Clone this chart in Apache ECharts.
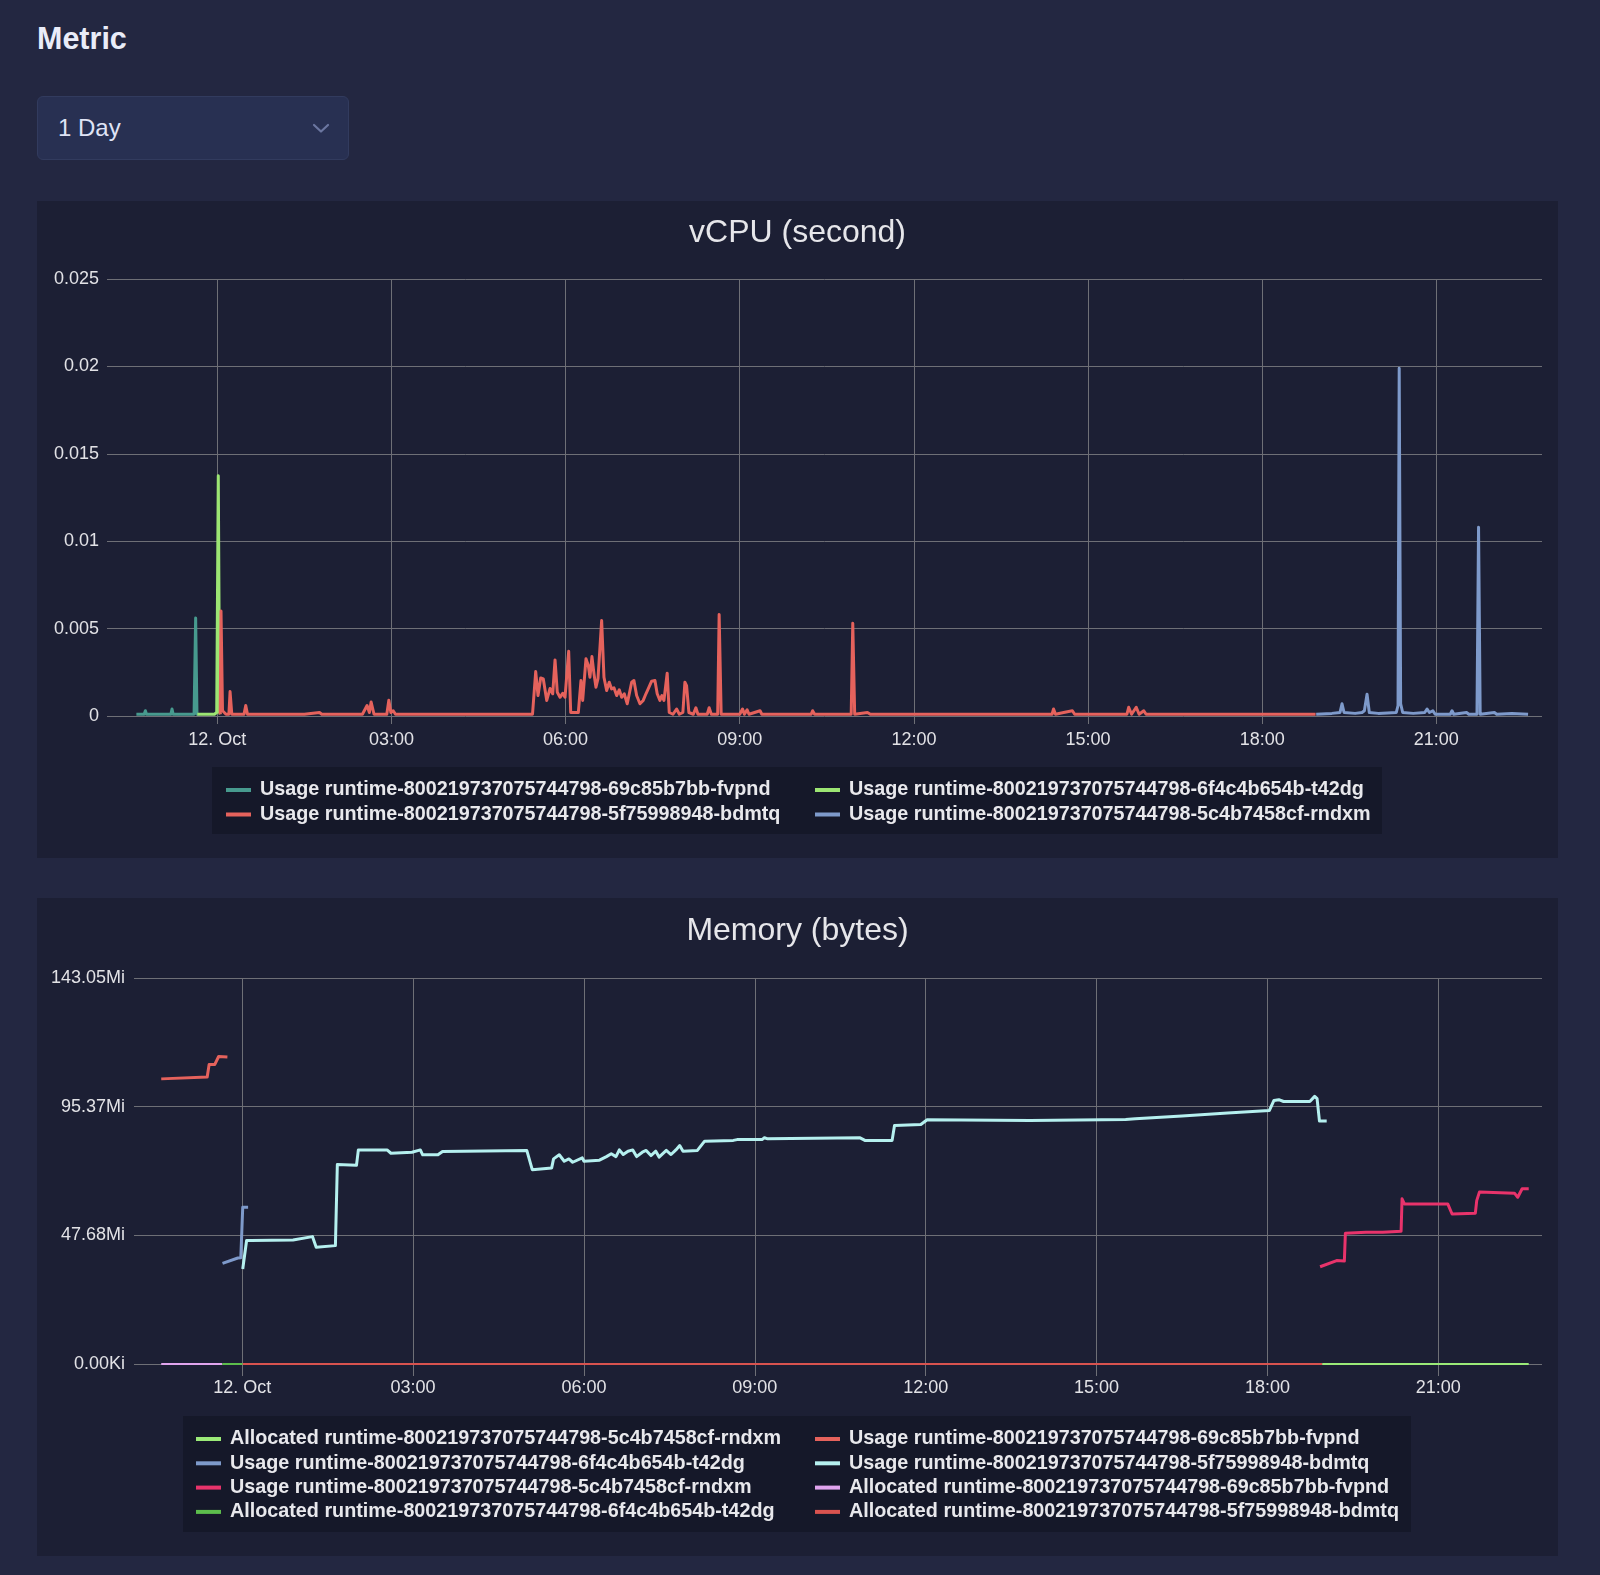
<!DOCTYPE html>
<html>
<head>
<meta charset="utf-8">
<title>Metric</title>
<script src="https://cdn.jsdelivr.net/npm/echarts@6/dist/echarts.min.js"></script>
<style>
  html, body { margin: 0; padding: 0; }
  body {
    width: 1600px; height: 1575px; position: relative; overflow: hidden;
    background: #232741;
    font-family: "Liberation Sans", Arial, sans-serif;
  }
  h1 {
    position: absolute; left: 37px; top: 21px; margin: 0;
    font-size: 30.5px; line-height: 34px; font-weight: bold; color: #e9ecf8;
  }
  .select {
    position: absolute; left: 37px; top: 96px; width: 290px; height: 62px;
    background: #283052; border: 1px solid #323b5e; border-radius: 6px;
    color: #dfe3f5; font-size: 24px; line-height: 62px; padding-left: 20px; box-sizing: content-box;
  }
  .select svg { position: absolute; left: 274px; top: 26px; }
  .panel { position: absolute; left: 37px; width: 1521px; background: #1c1f34; }
  #cpu { top: 201px; height: 657px; }
  #mem { top: 898px; height: 658px; }
</style>
</head>
<body>
<h1>Metric</h1>
<div class="select">1 Day
  <svg width="18" height="11" viewBox="0 0 18 11"><polyline points="2,2 9,8.5 16,2" fill="none" stroke="#6b76a0" stroke-width="2.2" stroke-linecap="round" stroke-linejoin="round"/></svg>
</div>
<div class="panel" id="cpu"></div>
<div class="panel" id="mem"></div>

<script>
// x values are hours from 12 Oct 00:00
var xMin = -1.9;
var xMax = 22.82;
var hourTicks = [0, 3, 6, 9, 12, 15, 18, 21];
var xTickLabels = ['12. Oct', '03:00', '06:00', '09:00', '12:00', '15:00', '18:00', '21:00'];

var memTickValues = [0, 50000000, 100000000, 150000000];
var memTickLabels = ['0.00Ki', '47.68Mi', '95.37Mi', '143.05Mi'];

// ---- vCPU ----
var cpuNames = [
  'Usage runtime-800219737075744798-69c85b7bb-fvpnd',
  'Usage runtime-800219737075744798-6f4c4b654b-t42dg',
  'Usage runtime-800219737075744798-5f75998948-bdmtq',
  'Usage runtime-800219737075744798-5c4b7458cf-rndxm'
];
var cpuColors = ['#479a8e', '#9ce573', '#e5625c', '#7e9acb'];

var cpuFvpnd = [
  [-1.394, 0.0001], [-1.30, 0.0001], [-1.26, 0.0001], [-1.239, 0.0003], [-1.22, 0.0001],
  [-1.0, 0.0001], [-0.80, 0.0001], [-0.78, 0.0004], [-0.76, 0.0001], [-0.55, 0.0001],
  [-0.40, 0.0001], [-0.373, 0.0056], [-0.35, 0.0001], [-0.327, 0.0001]
];
var cpuT42dg = [
  [-0.344, 0.0001], [-0.2, 0.0001], [-0.05, 0.0001], [-0.01, 0.0002], [0.017, 0.01375],
  [0.04, 0.0002], [0.05, 0.0001]
];
var cpuBdmtq = [
  [0.05, 0.0001], [0.064, 0.0060], [0.09, 0.0003], [0.15, 0.0001], [0.20, 0.0001],
  [0.22, 0.0014], [0.25, 0.0001], [0.46, 0.0001], [0.49, 0.0006], [0.52, 0.0001],
  [1.0, 0.0001], [1.5, 0.0001], [1.76, 0.0002], [1.8, 0.0001], [2.2, 0.0001],
  [2.5, 0.0001], [2.58, 0.0006], [2.62, 0.0002], [2.65, 0.0008], [2.70, 0.0001],
  [2.92, 0.0001], [2.955, 0.0009], [2.99, 0.0002], [3.03, 0.0003], [3.07, 0.0001],
  [4.0, 0.0001], [5.0, 0.0001], [5.43, 0.0001],
  [5.444, 0.0002], [5.485, 0.00254], [5.525, 0.00117], [5.571, 0.00218], [5.616, 0.00212],
  [5.675, 0.00089], [5.731, 0.00157], [5.778, 0.00127], [5.818, 0.00321], [5.857, 0.00136],
  [5.904, 0.00107], [5.950, 0.0013], [5.990, 0.00107], [6.053, 0.0037], [6.088, 0.0002],
  [6.219, 0.0002], [6.265, 0.00203], [6.294, 0.00089], [6.351, 0.00327], [6.391, 0.00289],
  [6.420, 0.00222], [6.454, 0.0034], [6.489, 0.00241], [6.523, 0.00165], [6.558, 0.00213],
  [6.621, 0.00546], [6.661, 0.00222], [6.707, 0.00146], [6.752, 0.00193], [6.793, 0.00155],
  [6.833, 0.00161], [6.880, 0.00117], [6.924, 0.0015], [6.966, 0.00107], [7.010, 0.00127],
  [7.062, 0.0007], [7.138, 0.00193], [7.177, 0.00203], [7.224, 0.00117], [7.281, 0.0007],
  [7.337, 0.00089], [7.384, 0.00127], [7.423, 0.00155], [7.482, 0.00199], [7.539, 0.00203],
  [7.578, 0.00127], [7.625, 0.00089], [7.659, 0.00117], [7.694, 0.00089], [7.750, 0.00245],
  [7.785, 0.0002], [7.85, 0.0001], [7.912, 0.0004], [7.96, 0.0001], [8.02, 0.0002],
  [8.055, 0.00193], [8.084, 0.00174], [8.124, 0.0002], [8.2, 0.0001], [8.244, 0.00047],
  [8.28, 0.0001], [8.44, 0.0001], [8.473, 0.00047], [8.51, 0.0001], [8.62, 0.0001],
  [8.645, 0.0058], [8.68, 0.0001], [9.0, 0.0001], [9.048, 0.0004], [9.08, 0.0001],
  [9.127, 0.00035], [9.16, 0.0001], [9.35, 0.0003], [9.38, 0.0001], [9.95, 0.0001],
  [9.97, 0.0002], [10.0, 0.0001], [10.23, 0.0001], [10.255, 0.0003], [10.29, 0.0001],
  [10.92, 0.0001], [10.947, 0.0053], [10.98, 0.0001], [11.2, 0.0002], [11.25, 0.0001],
  [12.0, 0.0001], [13.0, 0.0001],
  [14.38, 0.0001], [14.406, 0.0004], [14.44, 0.0001], [14.58, 0.0002], [14.73, 0.0003],
  [14.77, 0.0001], [15.67, 0.0001], [15.70, 0.0005], [15.75, 0.0001], [15.83, 0.0005],
  [15.88, 0.0001], [15.96, 0.0003], [16.0, 0.0001], [17.0, 0.0001], [18.0, 0.0001],
  [18.92, 0.0001]
];
var cpuRndxm = [
  [18.93, 0.0001], [19.2, 0.00015], [19.34, 0.0002], [19.375, 0.0007], [19.41, 0.0002],
  [19.6, 0.00015], [19.72, 0.0002], [19.76, 0.0003], [19.806, 0.00125], [19.845, 0.0002],
  [20.0, 0.00015], [20.31, 0.0002], [20.34, 0.0006], [20.36, 0.0199], [20.385, 0.0007],
  [20.42, 0.0002], [20.6, 0.00015], [20.80, 0.0002], [20.84, 0.0004], [20.88, 0.0002],
  [20.94, 0.0003], [20.98, 0.0001], [21.24, 0.0001], [21.27, 0.0003], [21.30, 0.0001],
  [21.52, 0.0002], [21.56, 0.0001], [21.70, 0.0001], [21.727, 0.0108], [21.755, 0.0001],
  [22.0, 0.0002], [22.04, 0.0001], [22.3, 0.00015], [22.58, 0.0001]
];

// ---- Memory (bytes) ----
var memNames = [
  'Allocated runtime-800219737075744798-5c4b7458cf-rndxm',
  'Usage runtime-800219737075744798-69c85b7bb-fvpnd',
  'Usage runtime-800219737075744798-6f4c4b654b-t42dg',
  'Usage runtime-800219737075744798-5f75998948-bdmtq',
  'Usage runtime-800219737075744798-5c4b7458cf-rndxm',
  'Allocated runtime-800219737075744798-69c85b7bb-fvpnd',
  'Allocated runtime-800219737075744798-6f4c4b654b-t42dg',
  'Allocated runtime-800219737075744798-5f75998948-bdmtq'
];
var memColors = ['#9bea78', '#e5625c', '#7e9acb', '#b5f0ef', '#e8336b', '#e0a4ee', '#5cbd4c', '#d9534f'];

var allocRndxm = [[18.96, 0], [22.587, 0]];
var usageFvpnd = [
  [-1.422, 110.8e6], [-0.615, 111.5e6], [-0.581, 116.4e6], [-0.481, 116.4e6],
  [-0.414, 119.5e6], [-0.26, 119.3e6]
];
var usageT42dg = [
  [-0.346, 39.1e6], [-0.077, 41.2e6], [-0.025, 41.3e6], [0.009, 60.9e6], [0.103, 60.9e6]
];
var usageBdmtq = [
  [0.009, 36.9e6], [0.077, 48.0e6], [0.155, 48.0e6], [0.892, 48.2e6], [1.233, 49.5e6],
  [1.299, 45.4e6], [1.636, 46.0e6], [1.670, 77.5e6], [2.006, 77.2e6], [2.039, 83.2e6],
  [2.543, 83.2e6], [2.611, 81.9e6], [2.98, 82.3e6], [3.127, 83.2e6], [3.168, 81.3e6],
  [3.436, 81.3e6], [3.517, 82.6e6], [4.996, 83.0e6], [5.092, 75.5e6], [5.433, 76.2e6],
  [5.466, 79.7e6], [5.566, 81.3e6], [5.654, 78.8e6], [5.735, 79.7e6], [5.802, 78.4e6],
  [5.97, 80.1e6], [6.0, 78.8e6], [6.272, 79.2e6], [6.395, 80.6e6], [6.479, 81.7e6],
  [6.562, 80.6e6], [6.621, 83.2e6], [6.689, 81.4e6], [6.773, 82.7e6], [6.857, 83.2e6],
  [6.924, 80.6e6], [7.025, 82.3e6], [7.092, 83.0e6], [7.176, 81.0e6], [7.261, 82.7e6],
  [7.319, 80.4e6], [7.445, 83.0e6], [7.529, 81.4e6], [7.614, 83.2e6], [7.681, 84.9e6],
  [7.739, 82.7e6], [7.991, 83.0e6], [8.118, 86.6e6], [8.622, 86.9e6], [8.688, 87.2e6],
  [9.126, 87.2e6], [9.168, 87.9e6], [9.226, 87.5e6], [10.848, 87.9e6], [10.932, 86.9e6],
  [11.410, 86.9e6], [11.452, 92.7e6], [11.914, 93.1e6], [12.025, 94.9e6], [13.830, 94.6e6],
  [15.510, 95.0e6], [15.679, 95.3e6], [16.5, 96.4e6], [17.3, 97.5e6], [18.032, 98.5e6],
  [18.114, 102.4e6], [18.199, 102.7e6], [18.283, 102.0e6], [18.744, 102.0e6], [18.829, 104.0e6],
  [18.871, 103.1e6], [18.913, 94.4e6], [19.04, 94.4e6]
];
var usageRndxm = [
  [18.924, 37.8e6], [19.215, 40.2e6], [19.350, 40.0e6], [19.368, 50.8e6], [19.731, 51.2e6],
  [20.023, 51.2e6], [20.346, 51.6e6], [20.363, 64.2e6], [20.404, 62.2e6], [21.165, 62.2e6],
  [21.241, 58.3e6], [21.65, 58.6e6], [21.674, 63.5e6], [21.721, 66.8e6], [22.336, 66.4e6],
  [22.394, 64.8e6], [22.471, 68.1e6], [22.587, 68.1e6]
];
var allocFvpnd = [[-1.422, 0], [-0.35, 0]];
var allocT42dg = [[-0.35, 0], [0.009, 0]];
var allocBdmtq = [[0.009, 0], [18.96, 0]];

var FONT = '"Liberation Sans", Arial, sans-serif';
var gridColor = '#6e6f76';
var labelColor = '#e2e2e6';

function lineSeries(name, color, data, width) {
  return {
    name: name,
    type: 'line',
    data: data,
    symbol: 'none',
    showSymbol: false,
    color: color,
    lineStyle: { color: color, width: width, join: 'round' },
    emphasis: { disabled: true },
    animation: false
  };
}

function legendCol(names, left, top, gap) {
  return {
    data: names,
    orient: 'vertical',
    left: left,
    top: top,
    padding: 0,
    itemGap: gap,
    icon: 'rect',
    itemWidth: 25,
    itemHeight: 4,
    selectedMode: false,
    textStyle: { color: '#e8e8ec', fontSize: 19.75, fontWeight: 'bold', fontFamily: FONT, lineHeight: 20, padding: [0, 0, 0, 4] }
  };
}

function xAxisOpt(tickLen) {
  return {
    type: 'value',
    min: xMin,
    max: xMax,
    axisLine: { show: false },
    axisTick: { show: true, customValues: hourTicks, length: tickLen, lineStyle: { color: gridColor } },
    axisLabel: {
      customValues: hourTicks,
      formatter: function (v) { return xTickLabels[hourTicks.indexOf(v)]; },
      color: labelColor, fontSize: 18, fontFamily: FONT, margin: 15
    },
    splitLine: { show: true, lineStyle: { color: gridColor, width: 1 } }
  };
}

function titleOpt(text, top) {
  return {
    text: text, left: 'center', top: top,
    textStyle: { color: '#e6e6ea', fontSize: 32, fontWeight: 'normal', fontFamily: FONT }
  };
}

var cpuChart = echarts.init(document.getElementById('cpu'));
cpuChart.setOption({
  backgroundColor: 'transparent',
  animation: false,
  title: titleOpt('vCPU (second)', 11),
  grid: { left: 70, right: 16, top: 78, bottom: 142 },
  xAxis: xAxisOpt(8),
  yAxis: {
    type: 'value', min: 0, max: 0.025, interval: 0.005,
    axisLine: { show: false }, axisTick: { show: false },
    axisLabel: { color: labelColor, fontSize: 18, fontFamily: FONT, margin: 8, padding: [6, 0, 0, 0] },
    splitLine: { lineStyle: { color: gridColor, width: 1 } }
  },
  graphic: [{
    type: 'rect', left: 175, top: 566, silent: true, z: -1,
    shape: { width: 1170, height: 67 },
    style: { fill: '#151829' }
  }],
  legend: [
    legendCol([cpuNames[0], cpuNames[2]], 189, 579, 4.5),
    legendCol([cpuNames[1], cpuNames[3]], 778, 579, 4.5)
  ],
  series: [
    lineSeries(cpuNames[0], cpuColors[0], cpuFvpnd, 3),
    lineSeries(cpuNames[1], cpuColors[1], cpuT42dg, 3),
    lineSeries(cpuNames[2], cpuColors[2], cpuBdmtq, 3),
    lineSeries(cpuNames[3], cpuColors[3], cpuRndxm, 3)
  ]
});

var memChart = echarts.init(document.getElementById('mem'));
memChart.setOption({
  backgroundColor: 'transparent',
  animation: false,
  title: titleOpt('Memory (bytes)', 12),
  grid: { left: 97, right: 16, top: 80, bottom: 192 },
  xAxis: xAxisOpt(12),
  yAxis: {
    type: 'value', min: 0, max: 150000000, interval: 50000000,
    axisLine: { show: false }, axisTick: { show: false },
    axisLabel: {
      color: labelColor, fontSize: 18, fontFamily: FONT, margin: 9, padding: [6, 0, 0, 0],
      formatter: function (v) { return memTickLabels[memTickValues.indexOf(v)]; }
    },
    splitLine: { lineStyle: { color: gridColor, width: 1 } }
  },
  graphic: [{
    type: 'rect', left: 146, top: 518, silent: true, z: -1,
    shape: { width: 1228, height: 116 },
    style: { fill: '#151829' }
  }],
  legend: [
    legendCol([memNames[0], memNames[2], memNames[4], memNames[6]], 159, 531, 4.3),
    legendCol([memNames[1], memNames[3], memNames[5], memNames[7]], 778, 531, 4.3)
  ],
  series: [
    lineSeries(memNames[0], memColors[0], allocRndxm, 2),
    lineSeries(memNames[1], memColors[1], usageFvpnd, 3),
    lineSeries(memNames[2], memColors[2], usageT42dg, 3),
    lineSeries(memNames[3], memColors[3], usageBdmtq, 3),
    lineSeries(memNames[4], memColors[4], usageRndxm, 3),
    lineSeries(memNames[5], memColors[5], allocFvpnd, 2),
    lineSeries(memNames[6], memColors[6], allocT42dg, 2),
    lineSeries(memNames[7], memColors[7], allocBdmtq, 2)
  ]
});
</script>
</body>
</html>
